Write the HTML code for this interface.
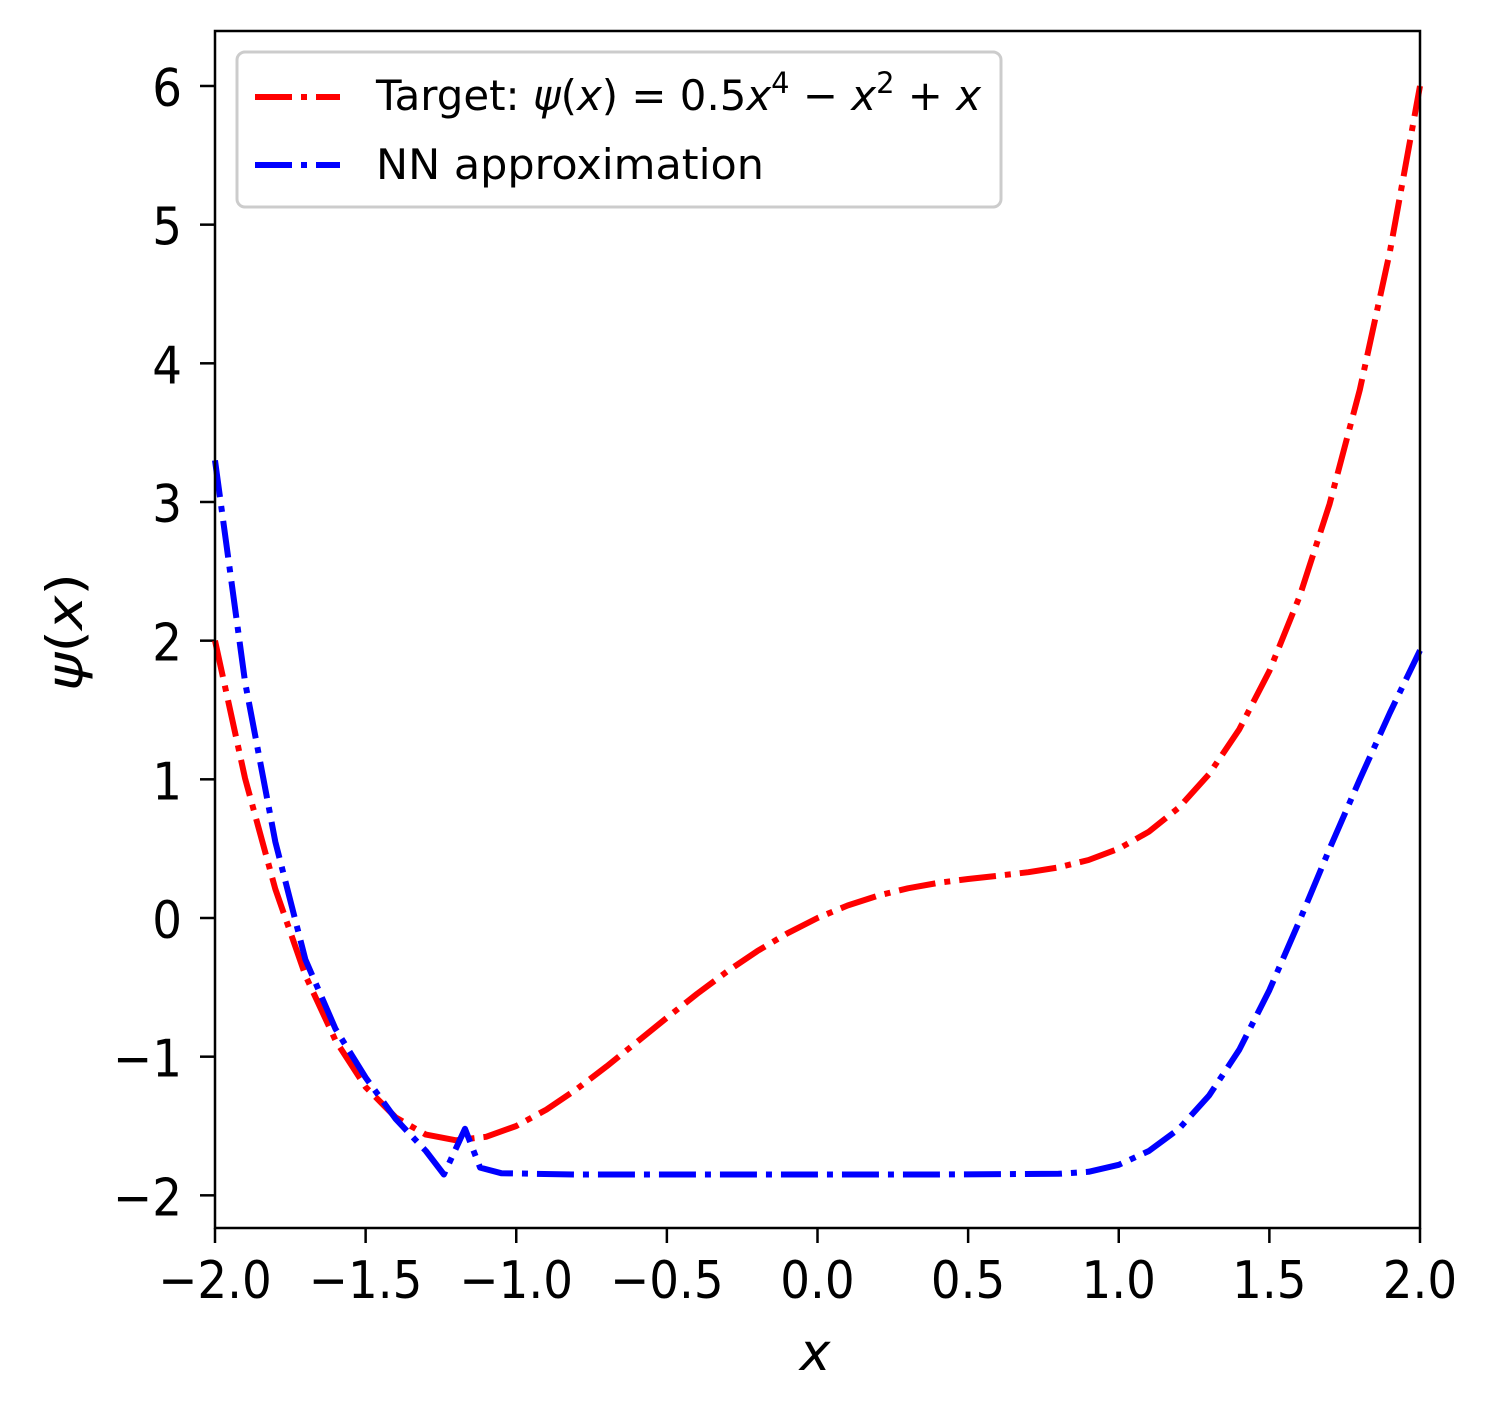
<!DOCTYPE html>
<html><head><meta charset="utf-8"><style>
html,body{margin:0;padding:0;background:#fff;}
svg{display:block;font-family:"DejaVu Sans","Liberation Sans",sans-serif;}
</style></head><body>
<svg id="chart" width="1493" height="1416" viewBox="0 0 1493 1416">
<g id="ticks"></g>
<g id="series"></g>
<rect x="215" y="31" width="1205" height="1197" fill="none" stroke="#000" stroke-width="2.5"/>
<text x="815" y="1370" font-size="52" font-style="italic" text-anchor="middle">x</text>
<text transform="translate(82,632) rotate(-90)" font-size="50" text-anchor="middle" textLength="118" lengthAdjust="spacingAndGlyphs"><tspan font-style="italic">ψ</tspan>(<tspan font-style="italic">x</tspan>)</text>
<g>
<rect x="237" y="52" width="764" height="155" rx="8" fill="#fff" fill-opacity="0.8" stroke="#ccc" stroke-width="3"/>
<line x1="255" y1="97" x2="340" y2="97" stroke="#f00" stroke-width="6" stroke-dasharray="37 9 6 9"/>
<text x="376" y="110" font-size="42" textLength="605" lengthAdjust="spacingAndGlyphs" xml:space="preserve">Target: <tspan font-style="italic">ψ</tspan>(<tspan font-style="italic">x</tspan>) = 0.5<tspan font-style="italic">x</tspan><tspan font-size="29" dy="-17">4</tspan><tspan dy="17"> − </tspan><tspan font-style="italic">x</tspan><tspan font-size="29" dy="-17">2</tspan><tspan dy="17"> + </tspan><tspan font-style="italic">x</tspan></text>
<line x1="255" y1="165" x2="340" y2="165" stroke="#00f" stroke-width="6" stroke-dasharray="37 9 6 9"/>
<text x="376" y="179" font-size="42" textLength="388" lengthAdjust="spacingAndGlyphs">NN approximation</text>
</g>
</svg>
<script>
const targetX=[-2,-1.9,-1.8,-1.7,-1.6,-1.5,-1.4,-1.3,-1.2,-1.1,-1.0,-0.9,-0.8,-0.7,-0.6,-0.5,-0.4,-0.3,-0.2,-0.1,0,0.1,0.2,0.3,0.4,0.5,0.6,0.7,0.8,0.9,1.0,1.1,1.2,1.3,1.4,1.5,1.6,1.7,1.8,1.9,2.0];
const targetY=[2,1.006,0.209,-0.414,-0.883,-1.219,-1.439,-1.562,-1.603,-1.578,-1.5,-1.382,-1.235,-1.07,-0.895,-0.719,-0.547,-0.386,-0.239,-0.11,0,0.09,0.161,0.214,0.253,0.281,0.305,0.33,0.365,0.418,0.5,0.622,0.797,1.038,1.361,1.781,2.317,2.986,3.809,4.806,6];
const nnX=[-2,-1.9,-1.8,-1.7,-1.6,-1.5,-1.4,-1.3,-1.24,-1.17,-1.12,-1.05,-0.8,-0.4,0,0.4,0.8,0.9,1.0,1.1,1.2,1.3,1.4,1.5,1.6,1.7,1.8,1.9,2.0];
const nnY=[3.3,1.7,0.55,-0.3,-0.8,-1.15,-1.45,-1.68,-1.85,-1.52,-1.8,-1.84,-1.85,-1.85,-1.85,-1.85,-1.845,-1.83,-1.78,-1.68,-1.52,-1.28,-0.95,-0.52,-0.02,0.5,1.0,1.48,1.93];
const xTicks=[-2,-1.5,-1,-0.5,0,0.5,1,1.5,2];
const xTickLabels=["−2.0","−1.5","−1.0","−0.5","0.0","0.5","1.0","1.5","2.0"];
const yTicks=[-2,-1,0,1,2,3,4,5,6];
const yTickLabels=["−2","−1","0","1","2","3","4","5","6"];
const NS="http://www.w3.org/2000/svg";
function sx(v){return 215+(v+2)*301.25;}
function sy(v){return 918-v*138.67;}
const tg=document.getElementById('ticks');
xTicks.forEach((t,i)=>{
  const l=document.createElementNS(NS,'line');
  l.setAttribute('x1',sx(t));l.setAttribute('x2',sx(t));l.setAttribute('y1',1228);l.setAttribute('y2',1243);
  l.setAttribute('stroke','#000');l.setAttribute('stroke-width','2.5');
  
  
  tg.appendChild(l);
  const tx=document.createElementNS(NS,'text');
  tx.setAttribute('x',sx(t));tx.setAttribute('y',1298);tx.setAttribute('font-size','52');tx.setAttribute('text-anchor','middle');
  tx.setAttribute('transform','translate('+sx(t)*0.1+',0) scale(0.9,1)');
  tx.textContent=xTickLabels[i];
  
  
  tg.appendChild(tx);
});
yTicks.forEach((t,i)=>{
  const l=document.createElementNS(NS,'line');
  l.setAttribute('x1',200);l.setAttribute('x2',215);l.setAttribute('y1',sy(t));l.setAttribute('y2',sy(t));
  l.setAttribute('stroke','#000');l.setAttribute('stroke-width','2.5');
  
  
  tg.appendChild(l);
  const tx=document.createElementNS(NS,'text');
  tx.setAttribute('x',182);tx.setAttribute('y',sy(t)+20);tx.setAttribute('font-size','52');tx.setAttribute('text-anchor','end');
  tx.setAttribute('transform','translate('+182*0.1+',0) scale(0.9,1)');
  tx.textContent=yTickLabels[i];
  
  
  tg.appendChild(tx);
});
const sg=document.getElementById('series');
function addLine(xs,ys,color,name){
  const p=document.createElementNS(NS,'polyline');
  p.setAttribute('points',xs.map((x,i)=>sx(x).toFixed(1)+','+sy(ys[i]).toFixed(1)).join(' '));
  p.setAttribute('fill','none');p.setAttribute('stroke',color);p.setAttribute('stroke-width','6');
  p.setAttribute('stroke-dasharray','37 9 6 9');p.setAttribute('stroke-linejoin','round');
  
  
  sg.appendChild(p);
}
addLine(targetX,targetY,'#f00','target-line');
addLine(nnX,nnY,'#00f','nn-approximation-line');
</script>
</body></html>
